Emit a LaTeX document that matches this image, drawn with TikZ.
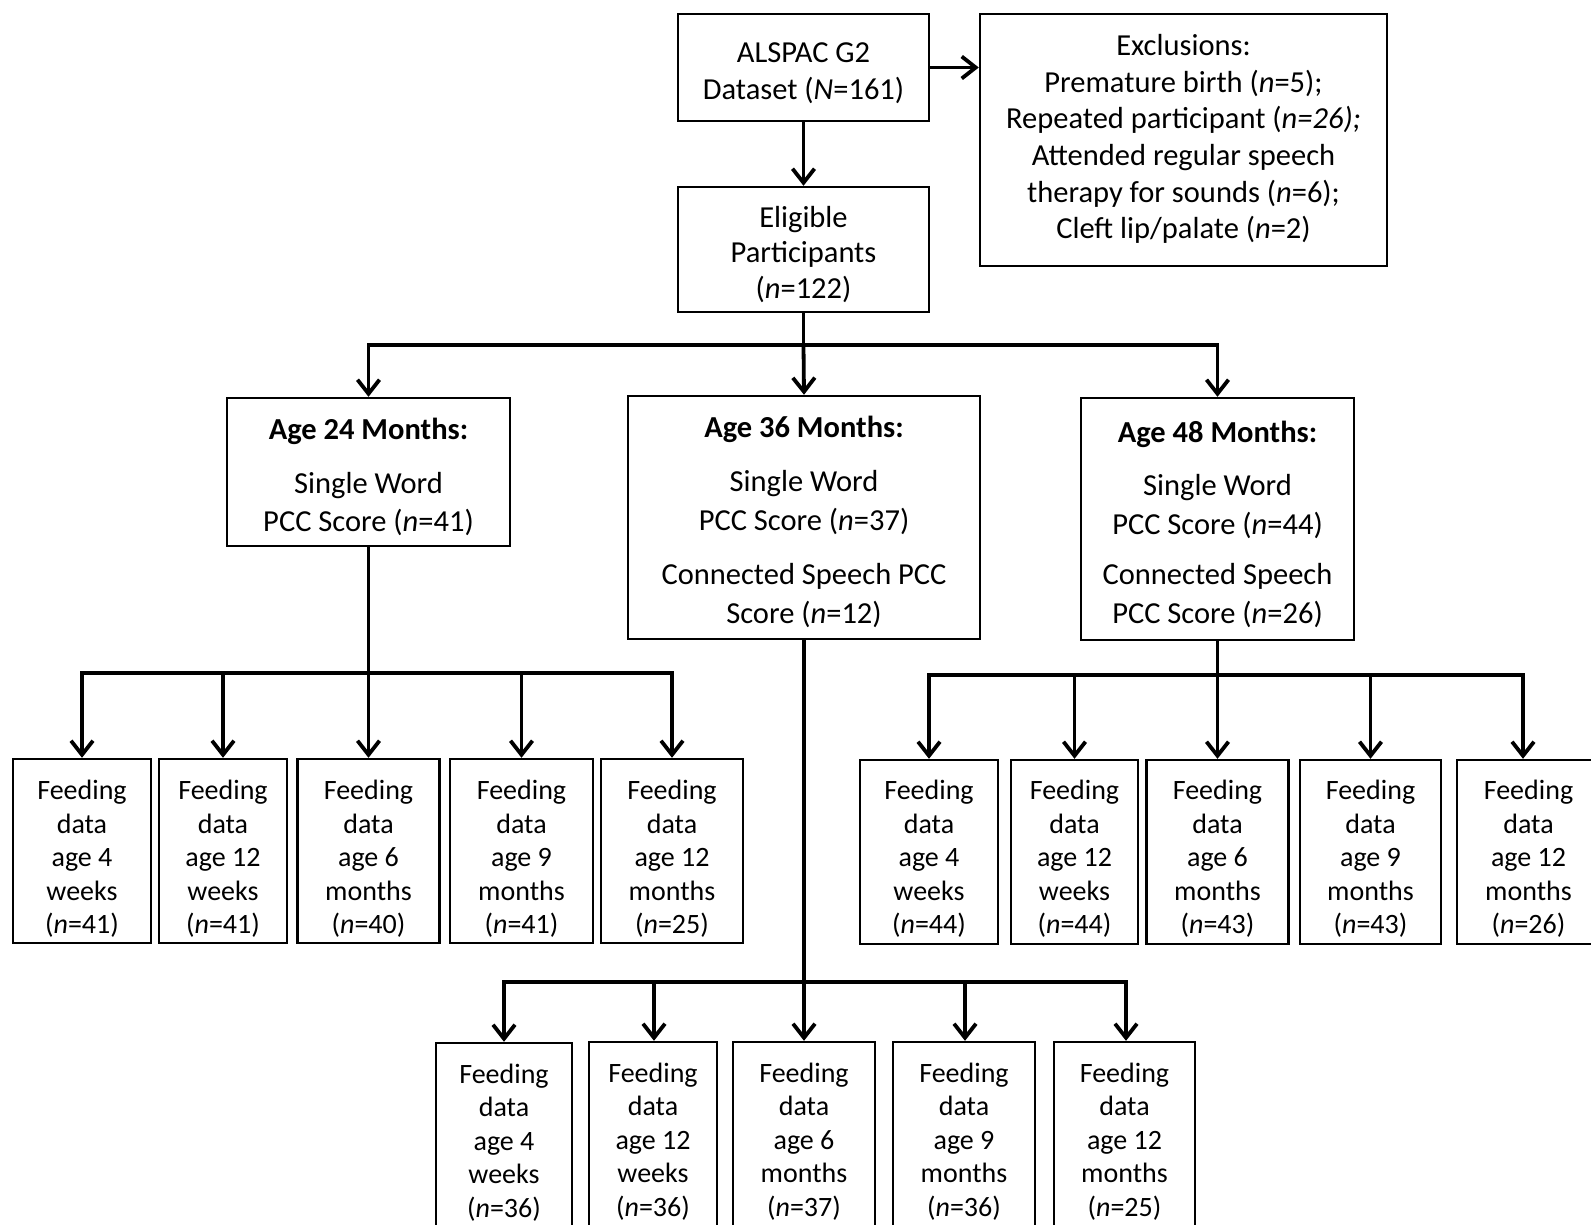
\documentclass[tikz,border=0pt]{standalone}
\usepackage{fontspec}
\setmainfont{Carlito}
\usetikzlibrary{arrows.meta}
% #1 name, #2 x, #3 y, #4 width, #5 height, #6 text style, #7 text drop, #8 text
\newcommand\flowbox[8]{%
  \node[box,minimum width=#4pt,minimum height=#5pt] (#1) at (#2,#3) {};
  \node[#6] (#1-text) at ([yshift=-#7pt]#1.center) {#8};}
\begin{document}
\begin{tikzpicture}[x=1pt,y=-1pt,
  box/.style={draw, line width=2.4pt, inner sep=0pt},
  txt/.style={inner sep=0pt, align=center},
  big/.style={txt, font=\fontsize{30.5}{36.6}\selectfont},
  mid/.style={txt, font=\fontsize{30.5}{35.5}\selectfont},
  age/.style={txt, font=\fontsize{30.5}{38.5}\selectfont},
  small/.style={txt, font=\fontsize{28}{33.5}\selectfont},
  wire/.style={line width=3.8pt},
  arr/.style={line width=3.8pt, -{Straight Barb[length=14pt,width=22pt]}},
]
\useasboundingbox (0,0) rectangle (1591,1225);
\clip (0,0) rectangle (1591,1225);

% top of the flow
\flowbox{top}{803.5}{67.5}{251}{107}{big}{6}
  {ALSPAC G2\\Dataset (\textit{N}=161)}
\flowbox{excl}{1183.5}{140}{407}{252}{big}{-1}
  {Exclusions:\\Premature birth (\textit{n}=5);\\Repeated participant (\textit{n=26);}\\Attended regular speech\\therapy for sounds (\textit{n}=6);\\Cleft lip/palate (\textit{n}=2)}
\flowbox{elig}{803.5}{249.5}{251}{125}{mid}{5}
  {Eligible\\Participants\\(\textit{n}=122)}

% age groups
\flowbox{a24}{368.5}{472}{283}{148}{age}{5}
  {\textbf{Age 24 Months:}\\[15pt]Single Word\\PCC Score (\textit{n}=41)}
\flowbox{a36}{804}{517.5}{352}{243}{age}{4}
  {\textbf{Age 36 Months:}\\[16pt]Single Word\\PCC Score (\textit{n}=37)\\[16pt]Connected Speech PCC\\Score (\textit{n}=12)}
\flowbox{a48}{1217.5}{519}{273}{242}{age}{5}
  {\textbf{Age 48 Months:}\\[15pt]Single Word\\PCC Score (\textit{n}=44)\\[12pt]Connected Speech\\PCC Score (\textit{n}=26)}

% feeding data, 24 months
\flowbox{L1}{82}{851}{138}{184}{small}{8}{Feeding\\data\\age 4\\weeks\\(\textit{n}=41)}
\flowbox{L2}{223}{851}{128}{184}{small}{8}{Feeding\\data\\age 12\\weeks\\(\textit{n}=41)}
\flowbox{L3}{368.5}{851}{142}{184}{small}{8}{Feeding\\data\\age 6\\months\\(\textit{n}=40)}
\flowbox{L4}{521.5}{851}{143}{184}{small}{8}{Feeding\\data\\age 9\\months\\(\textit{n}=41)}
\flowbox{L5}{672}{851}{142}{184}{small}{8}{Feeding\\data\\age 12\\months\\(\textit{n}=25)}

% feeding data, 48 months
\flowbox{R1}{929}{852}{138}{184}{small}{7}{Feeding\\data\\age 4\\weeks\\(\textit{n}=44)}
\flowbox{R2}{1074.5}{852}{127}{184}{small}{7}{Feeding\\data\\age 12\\weeks\\(\textit{n}=44)}
\flowbox{R3}{1217.5}{852}{142}{184}{small}{7}{Feeding\\data\\age 6\\months\\(\textit{n}=43)}
\flowbox{R4}{1370.5}{852}{141}{184}{small}{7}{Feeding\\data\\age 9\\months\\(\textit{n}=43)}
\flowbox{R5}{1528.5}{852}{143}{184}{small}{7}{Feeding\\data\\age 12\\months\\(\textit{n}=26)}

% feeding data, 36 months
\flowbox{M1}{504}{1135}{136}{184}{small}{7.5}{Feeding\\data\\age 4\\weeks\\(\textit{n}=36)}
\flowbox{M2}{653}{1134}{128}{184}{small}{7.5}{Feeding\\data\\age 12\\weeks\\(\textit{n}=36)}
\flowbox{M3}{804}{1134}{142}{184}{small}{7.5}{Feeding\\data\\age 6\\months\\(\textit{n}=37)}
\flowbox{M4}{964}{1134}{142}{184}{small}{7.5}{Feeding\\data\\age 9\\months\\(\textit{n}=36)}
\flowbox{M5}{1124.5}{1134}{141}{184}{small}{7.5}{Feeding\\data\\age 12\\months\\(\textit{n}=25)}

% connectors
\draw[arr] (top.east) -- (excl.west |- top.east);
\draw[arr] (top.south) -- (elig.north);

\coordinate (bus1) at (803.5,345);
\draw[wire] (elig.south) -- (bus1);
\draw[arr] (bus1) -| (a24.north);
\draw[arr] (bus1) -| (a48.north);
\draw[arr] (bus1) -- (a36.north);

\coordinate (busL) at (368.5,673);
\draw[wire] (a24.south) -- (busL);
\draw[arr] (busL) -| (L1.north);
\draw[arr] (busL) -| (L2.north);
\draw[arr] (busL) -- (L3.north);
\draw[arr] (busL) -| (L4.north);
\draw[arr] (busL) -| (L5.north);

\coordinate (busR) at (1217.5,675);
\draw[wire] (a48.south) -- (busR);
\draw[arr] (busR) -| (R1.north);
\draw[arr] (busR) -| (R2.north);
\draw[arr] (busR) -- (R3.north);
\draw[arr] (busR) -| (R4.north);
\draw[arr] (busR) -| ([xshift=-5.5pt]R5.north);

\coordinate (busM) at (804,982);
\draw[wire] (a36.south) -- (busM);
\draw[arr] (busM) -| (M1.north);
\draw[arr] (busM) -| ([xshift=1pt]M2.north);
\draw[arr] (busM) -- (M3.north);
\draw[arr] (busM) -| ([xshift=1pt]M4.north);
\draw[arr] (busM) -| ([xshift=1.5pt]M5.north);
\end{tikzpicture}
\end{document}
